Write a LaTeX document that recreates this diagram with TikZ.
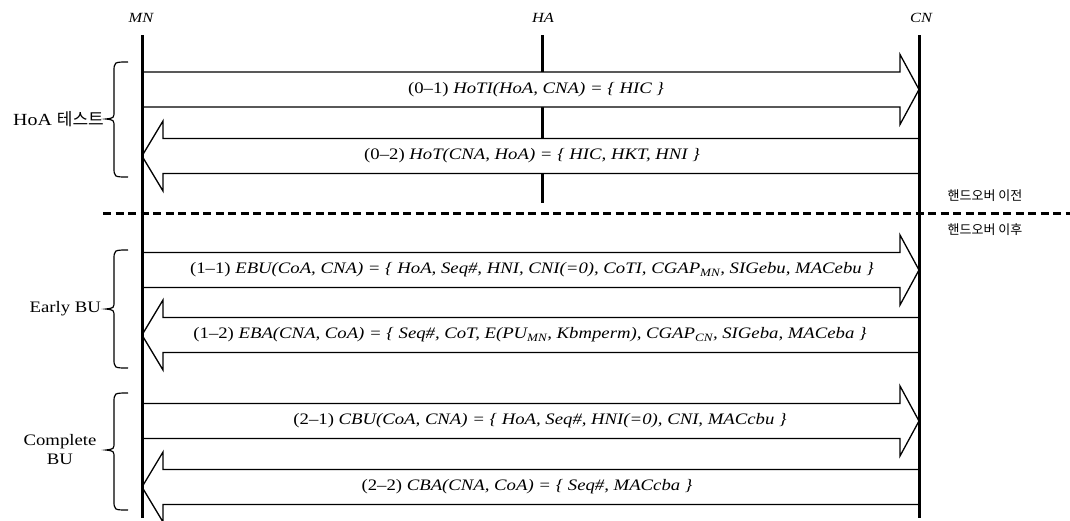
\documentclass[tikz,border=0pt]{standalone}
\usepackage{fontspec}
\setmainfont[FakeStretch=1.17]{Liberation Serif}
\newfontfamily\krfont{Noto Sans CJK KR}
\usetikzlibrary{calc}
\begin{document}
\begin{tikzpicture}[x=1pt,y=-1pt,
  life/.style={line width=3pt},
  fat/.style={line width=1.3pt, fill=white, line join=miter},
  fatR/.style={fat, to path={let \p1=(\tikztostart), \p2=(\tikztotarget) in
      (\x1,\y1+17.5pt) -- (\x2-19pt,\y1+17.5pt) -- (\x2-19pt,\y1+35pt) -- (\x2,\y2)
      -- (\x2-19pt,\y1-35pt) -- (\x2-19pt,\y1-17.5pt) -- (\x1,\y1-17.5pt)}},
  fatL/.style={fat, to path={let \p1=(\tikztostart), \p2=(\tikztotarget) in
      (\x1,\y1+17.5pt) -- (\x2+21pt,\y1+17.5pt) -- (\x2+21pt,\y1+35pt) -- (\x2,\y2)
      -- (\x2+21pt,\y1-35pt) -- (\x2+21pt,\y1-17.5pt) -- (\x1,\y1-17.5pt)}},
  msg/.style={font=\fontsize{16}{18}\selectfont, inner sep=0pt},
  ent/.style={font=\fontsize{14}{16}\selectfont\itshape, inner sep=0pt},
  side/.style={font=\fontsize{16}{19}\selectfont, inner sep=0pt, align=center},
  kr/.style={font=\fontsize{13}{15}\krfont, inner sep=0pt},
  brc/.style={line width=1.2pt},
  sep/.style={line width=3pt, dash pattern=on 8pt off 4.5pt},
]
\useasboundingbox (0,0) rectangle (1070,520);
\newcommand\mybrace[3]{\draw[brc] (128,#1) .. controls (114,#1) .. (114,#1+10) -- (114,#2-8) .. controls (114,#2-1) .. (106,#2) .. controls (114,#2+1) .. (114,#2+8) -- (114,#3-10) .. controls (114,#3) .. (128,#3);}

% lifeline entities
\node[ent] (MN) at (141,18) {MN};
\node[ent] (HA) at (543,18) {HA};
\node[ent] (CN) at (921,18) {CN};
\coordinate (MNt) at (142,35); \coordinate (MNb) at (142,518);
\coordinate (HAt) at (542,35); \coordinate (HAb) at (542,203);
\coordinate (CNt) at (919,35); \coordinate (CNb) at (919,518);

\draw[life] (HAt) -- (HAb);

% separator
\coordinate (sepL) at (103,213); \coordinate (sepR) at (1070,213);
\draw[sep] (sepL) -- (sepR);

% message anchor points on lifelines
\foreach \n/\y in {01/89.5, 02/156, 11/270, 12/335, 21/421, 22/487}{
  \coordinate (m\n a) at (142,\y);
  \coordinate (m\n b) at (919,\y);
}

\draw[fatR] (m01a) to (m01b);
\draw[fatL] (m02b) to (m02a);
\draw[fatR] (m11a) to (m11b);
\draw[fatL] (m12b) to (m12a);
\draw[fatR] (m21a) to (m21b);
\draw[fatL] (m22b) to (m22a);

\node[msg] (l01) at (536,89.5) {(0--1) \textit{HoTI(HoA, CNA) = \{ HIC \}}};
\node[msg] (l02) at (532,156) {(0--2) \textit{HoT(CNA, HoA) = \{ HIC, HKT, HNI \}}};
\node[msg] (l11) at (532,270) {(1--1) \textit{EBU(CoA, CNA) = \{ HoA, Seq\#, HNI, CNI(=0), CoTI, CGAP\textsubscript{MN}, SIGebu, MACebu \}}};
\node[msg] (l12) at (530,335) {(1--2) \textit{EBA(CNA, CoA) = \{ Seq\#, CoT, E(PU\textsubscript{MN}, Kbmperm), CGAP\textsubscript{CN}, SIGeba, MACeba \}}};
\node[msg] (l21) at (540,421) {(2--1) \textit{CBU(CoA, CNA) = \{ HoA, Seq\#, HNI(=0), CNI, MACcbu \}}};
\node[msg] (l22) at (527,487) {(2--2) \textit{CBA(CNA, CoA) = \{ Seq\#, MACcba \}}};

\draw[life] (MNt) -- (MNb);
\draw[life] (CNt) -- (CNb);

% braces and group labels
\mybrace{62}{119}{177}
\mybrace{250}{309}{368}
\mybrace{393}{450}{510}
\node[side, anchor=east, font=\fontsize{17}{19}\selectfont] (g0) at (104,119) {HoA {\fontsize{17}{19}\krfont 테스트}};
\node[side, anchor=east] (g1) at (101,309) {Early BU};
\node[side] (g2) at (60,450) {Complete\\BU};

% handover labels
\node[kr] (before) at (985,196) {핸드오버 이전};
\node[kr] (after) at (985,230) {핸드오버 이후};
\end{tikzpicture}
\end{document}
